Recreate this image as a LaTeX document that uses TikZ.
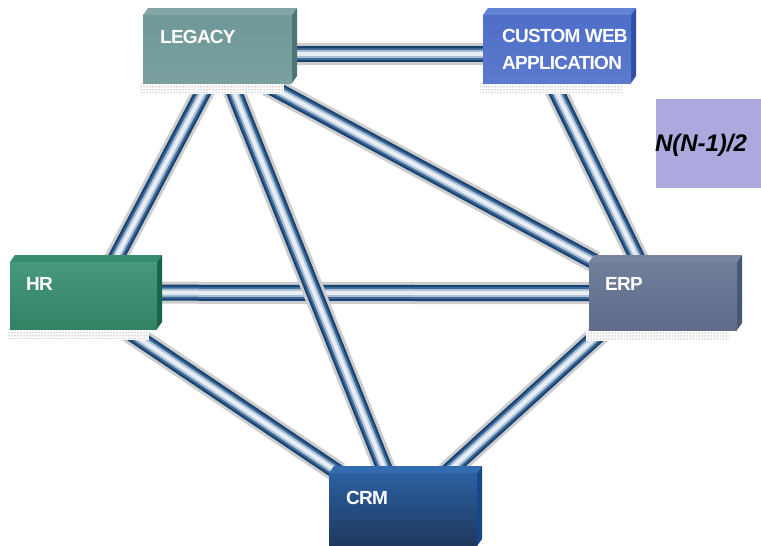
\documentclass[tikz,border=0pt]{standalone}
\usepackage{fontspec}
\setmainfont{Liberation Sans}
\newfontfamily\boxfont[LetterSpace=-4]{Liberation Sans}
\usetikzlibrary{patterns}

\definecolor{legacyF}{RGB}{112,152,152}
\definecolor{legacyB}{RGB}{122,160,160}
\definecolor{legacyT}{RGB}{130,166,166}
\definecolor{legacyS}{RGB}{78,116,116}
\definecolor{customF}{RGB}{78,110,200}
\definecolor{customB}{RGB}{92,122,205}
\definecolor{customT}{RGB}{98,130,214}
\definecolor{customS}{RGB}{48,80,168}
\definecolor{hrF}{RGB}{72,152,126}
\definecolor{hrB}{RGB}{50,130,100}
\definecolor{hrT}{RGB}{56,140,110}
\definecolor{hrS}{RGB}{22,100,76}
\definecolor{erpF}{RGB}{112,126,154}
\definecolor{erpB}{RGB}{96,108,138}
\definecolor{erpT}{RGB}{120,132,160}
\definecolor{erpS}{RGB}{72,86,114}
\definecolor{crmF}{RGB}{44,96,162}
\definecolor{crmB}{RGB}{30,56,92}
\definecolor{crmT}{RGB}{52,108,178}
\definecolor{crmS}{RGB}{22,70,140}
\definecolor{pipedark}{RGB}{22,66,114}
\definecolor{pipemid}{RGB}{62,104,150}
\definecolor{pipelight}{RGB}{170,192,214}
\definecolor{pipewhite}{RGB}{232,238,244}
\definecolor{nboxc}{RGB}{171,169,222}

\pgfdeclarelayer{background}
\pgfsetlayers{background,main}

\begin{document}
\begin{tikzpicture}[x=1pt,y=-1pt,
    box/.style={inner sep=0pt, anchor=north west},
    lbl/.style={text=white, font=\boxfont\bfseries\fontsize{19}{27}\selectfont,
        anchor=west, inner sep=0pt, align=left},
    pipe/.style={draw=pipedark, line width=16,
        preaction={draw=black!20, line width=22},
        postaction={draw=pipemid, line width=12},
        postaction={draw=pipelight, line width=8},
        postaction={draw=pipewhite, line width=4}}]
    \useasboundingbox (0,0) rectangle (761,546);

    % 3d boxes with shadow
    \foreach \n/\xa/\ya/\xb/\yb in {legacy/143/15/292/83, custom/483/15/631/83,
        hr/10/262/157/329, erp/589/262/737/330, crm/329/473/477/546} {
        \fill[white] (\xa-3,\yb) rectangle (\xb-8,\yb+11);
        \fill[pattern=dots, pattern color=black!70] (\xa-3,\yb) rectangle (\xb-8,\yb+9);
        \fill[\n T] (\xa,\ya) -- (\xa+5,\ya-7) -- (\xb+5,\ya-7) -- (\xb,\ya) -- cycle;
        \fill[\n S] (\xb,\ya) -- (\xb+5,\ya-7) -- (\xb+5,\yb-7) -- (\xb,\yb) -- cycle;
        \node[box, top color=\n F, bottom color=\n B,
            minimum width=\xb-\xa, minimum height=\yb-\ya] (\n) at (\xa,\ya) {};
    }

    % Labels
    \node[lbl] (legacy-lbl) at ([shift={(17,22)}]legacy.north west) {LEGACY};
    \node[lbl] (custom-lbl) at ([shift={(19,34)}]custom.north west) {CUSTOM WEB\\APPLICATION};
    \node[lbl] (hr-lbl) at ([shift={(16,22)}]hr.north west) {HR};
    \node[lbl] (erp-lbl) at ([shift={(16,22)}]erp.north west) {ERP};
    \node[lbl] (crm-lbl) at ([shift={(17,25)}]crm.north west) {CRM};

    % Formula
    \node[box, fill=nboxc, minimum width=105, minimum height=89] (nbox) at (656,99) {};
    \node[font=\bfseries\itshape\fontsize{24}{28}\selectfont, inner sep=0pt] (formula)
        at (701,145) {N(N-1)/2};

    % Pipes
    \begin{pgfonlayer}{background}
        \draw[pipe] ([shift={(0,-3)}]hr.east) -- ([shift={(0,-3)}]erp.west);
        \draw[pipe] ([shift={(0,5)}]legacy.east) -- ([shift={(0,5)}]custom.west);
        \draw[pipe] ([shift={(-10,0)}]legacy.south) -- ([shift={(30,0)}]hr.north);
        \draw[pipe] ([shift={(13,0)}]legacy.south) -- ([shift={(-17,0)}]crm.north);
        \draw[pipe] ([shift={(-28,0)}]legacy.south east) -- ([shift={(6,0)}]erp.north west);
        \draw[pipe] ([shift={(-5,0)}]custom.south) -- ([shift={(-24,0)}]erp.north);
        \draw[pipe] ([shift={(42,0)}]hr.south) -- ([shift={(10,0)}]crm.north west);
        \draw[pipe] ([shift={(-60,0)}]erp.south) -- ([shift={(-31,0)}]crm.north east);
    \end{pgfonlayer}
\end{tikzpicture}
\end{document}
